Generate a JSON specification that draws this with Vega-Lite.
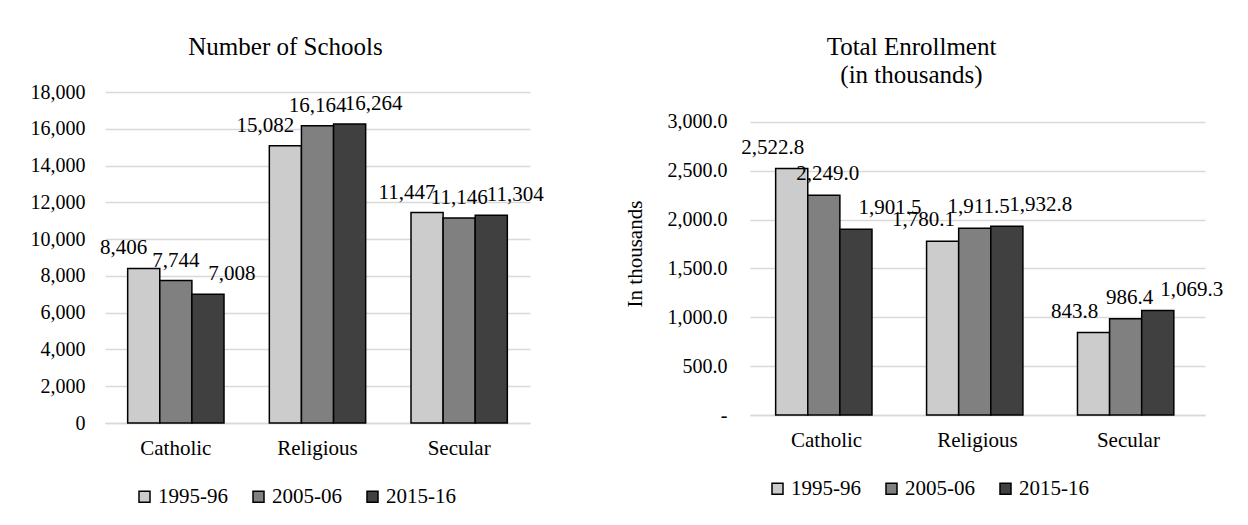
{
  "$schema": "https://vega.github.io/schema/vega-lite/v6.json",
  "autosize": {"type": "pad"},
  "padding": {"left": 30, "top": 35, "right": 0, "bottom": 0},
  "background": "white",
  "datasets": {
    "schools": [
      {"category": "Catholic", "period": "1995-96", "value": 8406},
      {"category": "Catholic", "period": "2005-06", "value": 7744},
      {"category": "Catholic", "period": "2015-16", "value": 7008},
      {"category": "Religious", "period": "1995-96", "value": 15082},
      {"category": "Religious", "period": "2005-06", "value": 16164},
      {"category": "Religious", "period": "2015-16", "value": 16264},
      {"category": "Secular", "period": "1995-96", "value": 11447},
      {"category": "Secular", "period": "2005-06", "value": 11146},
      {"category": "Secular", "period": "2015-16", "value": 11304}
    ],
    "enroll": [
      {"category": "Catholic", "period": "1995-96", "value": 2522.8},
      {"category": "Catholic", "period": "2005-06", "value": 2249.0},
      {"category": "Catholic", "period": "2015-16", "value": 1901.5},
      {"category": "Religious", "period": "1995-96", "value": 1780.1},
      {"category": "Religious", "period": "2005-06", "value": 1911.5},
      {"category": "Religious", "period": "2015-16", "value": 1932.8},
      {"category": "Secular", "period": "1995-96", "value": 843.8},
      {"category": "Secular", "period": "2005-06", "value": 986.4},
      {"category": "Secular", "period": "2015-16", "value": 1069.3}
    ]
  },
  "config": {
    "font": "Liberation Serif",
    "view": {"stroke": null},
    "axis": {
      "labelFont": "Liberation Serif",
      "labelColor": "black",
      "titleFont": "Liberation Serif",
      "titleFontWeight": "normal",
      "titleColor": "black",
      "ticks": false,
      "tickSize": 0,
      "gridColor": "#d9d9d9",
      "gridWidth": 1.5,
      "domain": false
    },
    "title": {
      "font": "Liberation Serif",
      "fontSize": 25,
      "fontWeight": "normal",
      "color": "black",
      "baseline": "alphabetic",
      "lineHeight": 28
    },
    "legend": {
      "symbolType": "square",
      "symbolSize": 121,
      "symbolStrokeColor": "black",
      "symbolStrokeWidth": 1.5,
      "labelFont": "Liberation Serif",
      "labelFontSize": 21,
      "labelColor": "black",
      "labelOffset": 3,
      "columnPadding": 20,
      "padding": 0,
      "direction": "horizontal"
    },
    "text": {"font": "Liberation Serif", "fontSize": 21, "color": "black"}
  },
  "bounds": "flush",
  "spacing": 220,
  "resolve": {"scale": {"color": "independent"}, "legend": {"color": "independent"}},
  "hconcat": [
    {
      "width": 425,
      "height": 331,
      "title": {"text": "Number of Schools", "anchor": "middle", "frame": "group", "dx": -32, "offset": 22},
      "data": {"name": "schools"},
      "encoding": {
        "x": {
          "field": "category", "type": "nominal",
          "sort": ["Catholic", "Religious", "Secular"],
          "scale": {"paddingInner": 0.32, "paddingOuter": 0.16},
          "axis": {"title": null, "labelAngle": 0, "labelFontSize": 21, "labelPadding": 14, "domain": true, "domainColor": "#d9d9d9", "domainWidth": 1.5, "grid": false}
        },
        "xOffset": {"field": "period", "type": "nominal", "sort": ["1995-96", "2005-06", "2015-16"]},
        "y": {
          "field": "value", "type": "quantitative",
          "scale": {"domain": [0, 18000], "nice": false},
          "axis": {"title": null, "values": [0, 2000, 4000, 6000, 8000, 10000, 12000, 14000, 16000, 18000], "format": ",d", "labelFontSize": 20, "labelPadding": 20, "grid": true}
        }
      },
      "layer": [
        {
          "mark": {"type": "bar", "stroke": "black", "strokeWidth": 1.5},
          "encoding": {
            "color": {
              "field": "period", "type": "nominal",
              "scale": {"domain": ["1995-96", "2005-06", "2015-16"], "range": ["#cccccc", "#808080", "#404040"]},
              "legend": {"title": null, "orient": "none", "legendX": 29, "legendY": 394}
            }
          }
        },
        {
          "transform": [{"filter": "datum.period == '1995-96'"}],
          "mark": {"type": "text", "dx": -20, "dy": -14, "baseline": "alphabetic"},
          "encoding": {"text": {"field": "value", "type": "quantitative", "format": ",d"}}
        },
        {
          "transform": [{"filter": "datum.period == '2005-06'"}],
          "mark": {"type": "text", "dx": 0, "dy": -14, "baseline": "alphabetic"},
          "encoding": {"text": {"field": "value", "type": "quantitative", "format": ",d"}}
        },
        {
          "transform": [{"filter": "datum.period == '2015-16'"}],
          "mark": {"type": "text", "dx": 24, "dy": -14, "baseline": "alphabetic"},
          "encoding": {"text": {"field": "value", "type": "quantitative", "format": ",d"}}
        }
      ]
    },
    {
      "width": 455,
      "height": 323,
      "title": {"text": ["Total Enrollment", "(in thousands)"], "anchor": "middle", "frame": "group", "dx": -66, "offset": 4},
      "data": {"name": "enroll"},
      "encoding": {
        "x": {
          "field": "category", "type": "nominal",
          "sort": ["Catholic", "Religious", "Secular"],
          "scale": {"paddingInner": 0.325, "paddingOuter": 0.17},
          "axis": {"title": null, "labelAngle": 0, "labelFontSize": 21, "labelPadding": 14, "domain": true, "domainColor": "#d9d9d9", "domainWidth": 1.5, "grid": false}
        },
        "xOffset": {"field": "period", "type": "nominal", "sort": ["1995-96", "2005-06", "2015-16"]},
        "y": {
          "field": "value", "type": "quantitative",
          "scale": {"domain": [0, 3307], "nice": false},
          "axis": {"title": "In thousands", "titleFontSize": 21, "titlePadding": 22, "values": [0, 500, 1000, 1500, 2000, 2500, 3000], "labelExpr": "datum.value == 0 ? '-\u00a0\u00a0' : format(datum.value, ',.1f')", "labelFontSize": 20, "labelPadding": 23, "grid": true}
        }
      },
      "layer": [
        {
          "mark": {"type": "bar", "stroke": "black", "strokeWidth": 1.5},
          "encoding": {
            "color": {
              "field": "period", "type": "nominal",
              "scale": {"domain": ["1995-96", "2005-06", "2015-16"], "range": ["#cccccc", "#808080", "#404040"]},
              "legend": {"title": null, "orient": "none", "legendX": 17, "legendY": 386}
            }
          }
        },
        {
          "transform": [{"filter": "datum.period == '1995-96'"}],
          "mark": {"type": "text", "dx": -19, "dy": -15, "baseline": "alphabetic"},
          "encoding": {"text": {"field": "value", "type": "quantitative", "format": ",.1f"}}
        },
        {
          "transform": [{"filter": "datum.period == '2005-06'"}],
          "mark": {"type": "text", "dx": 4, "dy": -15, "baseline": "alphabetic"},
          "encoding": {"text": {"field": "value", "type": "quantitative", "format": ",.1f"}}
        },
        {
          "transform": [{"filter": "datum.period == '2015-16'"}],
          "mark": {"type": "text", "dx": 34, "dy": -15, "baseline": "alphabetic"},
          "encoding": {"text": {"field": "value", "type": "quantitative", "format": ",.1f"}}
        }
      ]
    }
  ]
}
